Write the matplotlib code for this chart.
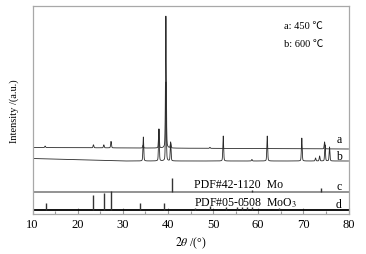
import numpy as np
import matplotlib
matplotlib.use("Agg")
import matplotlib.pyplot as plt

plt.rcParams['font.family'] = ['Liberation Serif', 'Noto Sans CJK SC', 'DejaVu Serif']
plt.rcParams['mathtext.fontset'] = 'stix'

# ---- data (intensity in arbitrary units) ----
# curve a (450 C): baseline and peaks
a_base_theta = [10, 80]
a_base = [66.5, 65.0]
a_peak_pos = [12.8, 23.5, 25.8, 27.4, 34.5, 38.0, 39.55, 40.6, 49.3, 74.7]
a_peak_h = [1.5, 3.0, 3.0, 6.5, 3.0, 19.0, 132.0, 5.0, 1.0, 7.0]

# curve b (600 C)
b_base_theta = [10, 30, 80]
b_base = [55.5, 53.0, 53.0]
b_peak_pos = [34.55, 38.0, 39.55, 40.6, 52.25, 58.6, 62.0, 69.65, 72.7, 73.6, 74.8, 75.8]
b_peak_h = [24.0, 32.0, 79.0, 19.0, 25.0, 1.5, 25.0, 23.0, 3.0, 5.0, 16.0, 14.0]

# reference patterns
mo_pos = [40.8, 58.7, 73.8]          # PDF#42-1120 Mo
mo_h = [14.0, 2.0, 3.5]
moo3_pos = [12.9, 23.45, 25.9, 27.45, 33.9, 39.1, 46.0, 49.3, 52.9, 55.4, 56.4, 57.6, 58.6, 64.7]
moo3_h = [7.0, 15.0, 17.0, 18.5, 7.0, 7.0, 1.5, 4.0, 3.0, 3.0, 2.5, 3.0, 3.0, 2.0]
c_level = 22.5
d_level = 4.2


def pattern(theta, base_t, base_v, pos, h, w=0.11):
    # baseline + pseudo-Voigt peaks at the read positions/heights
    y = np.interp(theta, base_t, base_v)
    for p, hh in zip(pos, h):
        y = y + hh * 0.25 / (1 + ((theta - p) / w) ** 2) \
              + hh * 0.75 * np.exp(-0.5 * ((theta - p) / (w * 0.8)) ** 2)
    return y


theta = np.linspace(10, 80, 3500)
ya = pattern(theta, a_base_theta, a_base, a_peak_pos, a_peak_h)
yb = pattern(theta, b_base_theta, b_base, b_peak_pos, b_peak_h)

fig = plt.figure(figsize=(3.66, 2.55), dpi=100)
ax = fig.add_axes([32.5 / 366, 40 / 255, 316 / 366, 208 / 255])

ax.plot(theta, ya, color='#2a2a2a', lw=0.6)
ax.plot(theta, yb, color='#2a2a2a', lw=0.6)

ax.axhline(c_level, color='#808080', lw=1.2)
ax.axhline(d_level, color='black', lw=1.3)
ax.vlines(mo_pos, c_level, np.array(mo_h) + c_level, color='#333333', lw=1.0)
ax.vlines(moo3_pos, d_level, np.array(moo3_h) + d_level, color='#333333', lw=1.0)

ax.set_xlim(10, 80)
ax.set_ylim(0, 208)
ax.set_xticks(np.arange(10, 81, 10))
ax.set_xticks(np.arange(15, 80, 10), minor=True)
ax.set_yticks([])
ax.tick_params(axis='x', which='major', direction='in', length=4, width=0.8, color='#999999',
               labelsize=9, pad=3)
ax.tick_params(axis='x', which='minor', direction='in', length=2.5, width=0.8, color='#999999')
for s in ax.spines.values():
    s.set_color('#a8a8a8')
    s.set_linewidth(0.9)

ax.set_xlabel(r'$2\theta$ /(°)', fontsize=8.5, labelpad=3)
ax.set_ylabel('Intensity /(a.u.)', fontsize=7.5, labelpad=10)

ax.text(0.795, 0.905, 'a: 450 ℃', transform=ax.transAxes, fontsize=7.5, va='center')
ax.text(0.795, 0.82, 'b: 600 ℃', transform=ax.transAxes, fontsize=7.5, va='center')

ax.text(78.5, 215 - 140, 'a', fontsize=8.5, va='center', ha='right')
ax.text(78.5, 215 - 157.5, 'b', fontsize=8.5, va='center', ha='right')
ax.text(78.5, 215 - 187, 'c', fontsize=8.5, va='center', ha='right')
ax.text(78.5, 215 - 205, 'd', fontsize=8.5, va='center', ha='right')

ax.text(45.8, c_level + 1.2, 'PDF#42-1120  Mo', fontsize=8.5, va='bottom')
ax.text(45.8, d_level + 1.2, r'PDF#05-0508  MoO$_3$', fontsize=8.5, va='bottom')

fig.savefig('out.png', dpi=100)
